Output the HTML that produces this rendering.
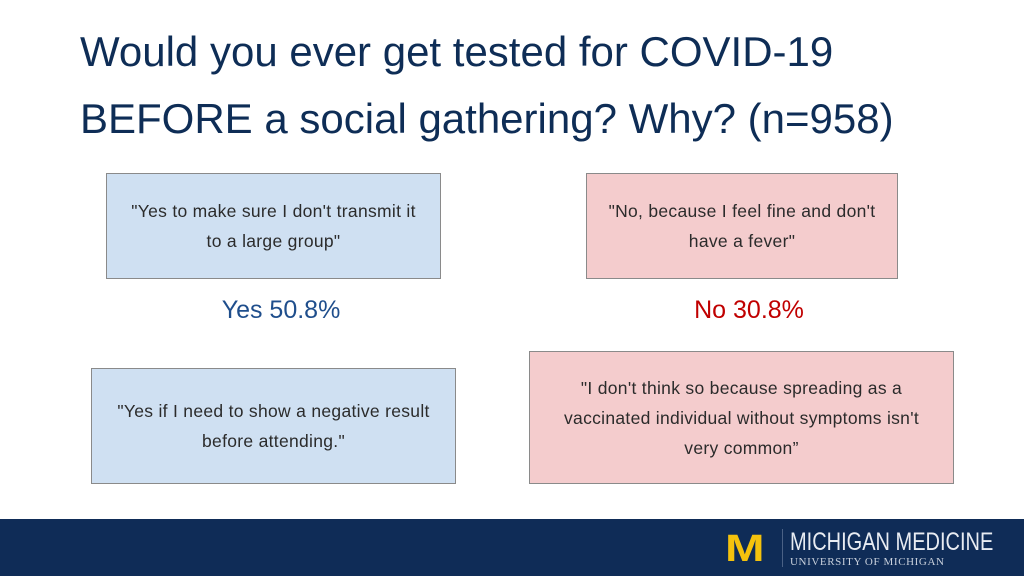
<!DOCTYPE html>
<html><head><meta charset="utf-8"><style>
body{margin:0;width:1024px;height:576px;position:relative;background:#fff;font-family:"Liberation Sans",sans-serif;overflow:hidden}
.t{position:absolute;left:80px;color:#0e2d56;font-size:42px;white-space:nowrap}
.box{position:absolute;box-sizing:border-box;border:1px solid #8a8a8a;display:flex;align-items:center;justify-content:center;text-align:center;font-size:17.5px;line-height:30px;color:#2b2b2b;letter-spacing:0.3px}
.blue{background:#cfe0f2}.pink{background:#f4cccd}
.pct{position:absolute;font-size:25px;transform:translateX(-50%);white-space:nowrap}
</style></head><body>
<div class="t" style="top:28px">Would you ever get tested for COVID-19</div>
<div class="t" style="top:95px">BEFORE a social gathering? Why? (n=958)</div>
<div class="box blue" style="left:106px;top:173px;width:335px;height:106px">"Yes to make sure I don't transmit it<br>to a large group"</div>
<div class="box pink" style="left:586px;top:173px;width:312px;height:106px">"No, because I feel fine and don't<br>have a fever"</div>
<div class="pct" style="left:281px;top:296px;color:#1f4e8c">Yes 50.8%</div>
<div class="pct" style="left:749px;top:296px;color:#c00000">No 30.8%</div>
<div class="box blue" style="left:91px;top:368px;width:365px;height:116px">"Yes if I need to show a negative result<br>before attending."</div>
<div class="box pink" style="left:529px;top:351px;width:425px;height:133px">"I don't think so because spreading as a<br>vaccinated individual without symptoms isn't<br>very common”</div>
<div style="position:absolute;left:0;top:519px;width:1024px;height:57px;background:#0f2c57">
<div style="position:absolute;left:725px;top:12px;color:#f4c20d;font-weight:bold;font-size:38px;line-height:36px;transform:scaleX(1.25);transform-origin:left">M</div>
<div style="position:absolute;left:782px;top:10px;width:1px;height:38px;background:#4a6185"></div>
<div style="position:absolute;left:790px;top:10px;color:#e8ecf2;font-size:25px;line-height:26px;transform:scaleX(0.8);transform-origin:left;white-space:nowrap">MICHIGAN MEDICINE</div>
<div style="position:absolute;left:790px;top:37px;color:#c8d0dc;font-family:'Liberation Serif',serif;font-size:11px;white-space:nowrap;letter-spacing:0.6px">UNIVERSITY OF MICHIGAN</div>
</div>
</body></html>
